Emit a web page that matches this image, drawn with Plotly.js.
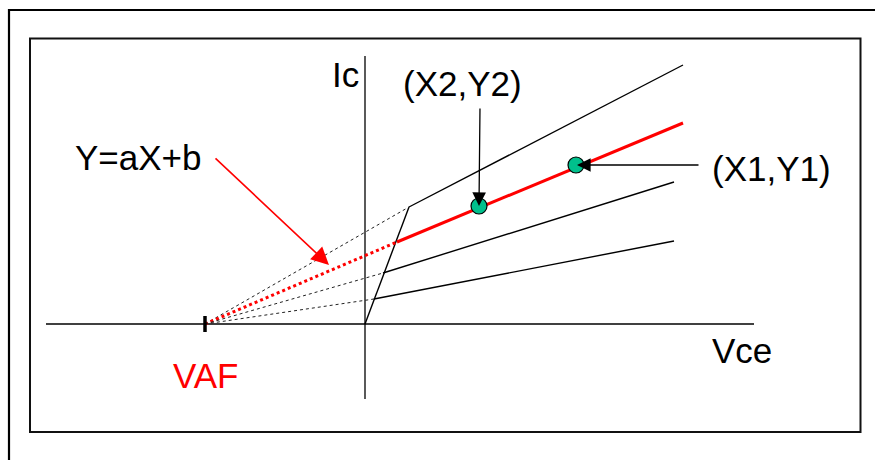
<!DOCTYPE html>
<html>
<head>
<meta charset="utf-8">
<script src="https://cdn.plot.ly/plotly-3.0.1.min.js"></script>
<style>html,body{margin:0;padding:0;background:#fff;}#chart{width:875px;height:460px;}</style>
</head>
<body>
<div id="chart"></div>
<script>
// Chart units: Vce to the right, Ic upward, origin at the axes crossing.
const vafX = -160;                       // Early voltage point on Vce axis
const satX = [0, 44];                    // saturation boundary line
const satY = [0, 117];
const kneeX = [44, 32, 18, 9];           // where each curve leaves the saturation line
const kneeY = [117, 82, 51, 25];
const endX = [318, 318, 309, 309];       // right end of each curve
const endY = [259, 201, 142, 83];
const redIndex = 1;                      // curve fitted by Y=aX+b
const pointX = [114, 211];               // (X2,Y2), (X1,Y1)
const pointY = [118, 159];
const vceAxisX = [-319, 389];
const icAxisY = [-75, 268];
const labels = ["Y=aX+b", "Ic", "(X2,Y2)", "(X1,Y1)", "Vce", "VAF"];

const traces = [];
// axes
traces.push({x: vceAxisX, y: [0, 0], mode: 'lines', line: {color: '#000', width: 1.3}, hoverinfo: 'skip'});
traces.push({x: [0, 0], y: icAxisY, mode: 'lines', line: {color: '#000', width: 1.3}, hoverinfo: 'skip'});
// saturation line
traces.push({x: satX, y: satY, mode: 'lines', line: {color: '#000', width: 1.4}, hoverinfo: 'skip'});
// curves: dotted extrapolation + solid active region
for (let i = 0; i < kneeX.length; i++) {
  const red = i === redIndex;
  traces.push({x: [vafX, kneeX[i]], y: [0, kneeY[i]], mode: 'lines',
    line: {color: red ? '#ff0000' : '#222', width: red ? 3 : 1, dash: 'dot'}, hoverinfo: 'skip'});
  traces.push({x: [kneeX[i], endX[i]], y: [kneeY[i], endY[i]], mode: 'lines',
    line: {color: red ? '#ff0000' : '#000', width: red ? 3 : 1.4}, hoverinfo: 'skip'});
}
// VAF tick
traces.push({x: [vafX, vafX], y: [-8, 8], mode: 'lines', line: {color: '#000', width: 3.5}, hoverinfo: 'skip'});
// measurement points
traces.push({x: pointX, y: pointY, mode: 'markers',
  marker: {size: 16, color: '#00c08c', line: {color: '#000', width: 1.2}}, hoverinfo: 'skip'});

const font = {family: '"Liberation Sans", Arial, sans-serif', size: 35, color: '#000'};
function label(t, x, y, color) {
  return {text: t, x: x, y: y, xref: 'x', yref: 'y', showarrow: false,
    xanchor: 'center', yanchor: 'middle', font: Object.assign({}, font, color ? {color: color} : {})};
}
function arrow(tx, ty, hx, hy, color, width, size) {
  return {text: '', x: hx, y: hy, ax: tx, ay: ty, xref: 'x', yref: 'y', axref: 'x', ayref: 'y',
    showarrow: true, arrowhead: 2, arrowsize: size, arrowwidth: width, arrowcolor: color, standoff: 0};
}

const layout = {
  width: 875, height: 460,
  margin: {l: 0, r: 0, t: 0, b: 0, pad: 0},
  paper_bgcolor: '#fff', plot_bgcolor: '#fff',
  showlegend: false,
  xaxis: {range: [-365, 510], visible: false, fixedrange: true},
  yaxis: {range: [-136, 324], visible: false, fixedrange: true},
  shapes: [
    {type: 'rect', xref: 'x', yref: 'y', x0: -356, x1: 530, y0: 314, y1: -160, line: {color: '#000', width: 2.2}},
    {type: 'rect', xref: 'x', yref: 'y', x0: -335, x1: 495.5, y0: 285.5, y1: -108, line: {color: '#111', width: 2}}
  ],
  annotations: [
    label(labels[0], -227, 167),
    label(labels[1], -20, 250),
    label(labels[2], 97, 240.5),
    label(labels[3], 406, 155.7),
    label(labels[4], 377, -26),
    label(labels[5], vafX, -51, '#ff0000'),
    arrow(115, 217, 114, 118, '#000', 1.3, 2.1),
    arrow(335, 159, 212, 159, '#000', 1.3, 2.1),
    arrow(-151, 167, -36, 59, '#ff0000', 1.6, 2.2)
  ]
};

Plotly.newPlot('chart', traces, layout, {staticPlot: true, displayModeBar: false});
</script>
</body>
</html>
